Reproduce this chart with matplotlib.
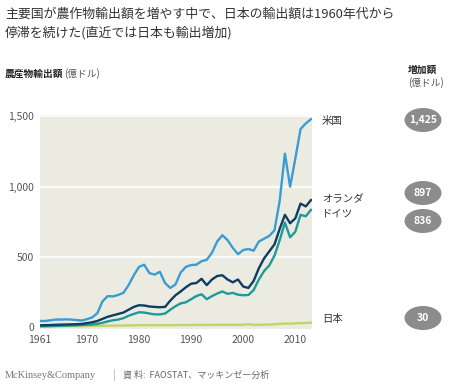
import matplotlib
matplotlib.use("Agg")
import matplotlib.pyplot as plt
from matplotlib.patches import Ellipse
import numpy as np

plt.rcParams['font.family'] = ['Noto Sans CJK JP', 'DejaVu Sans']

# data (億ドル), 1961-2013
years = np.arange(1961, 2014)
usa = [45, 45, 50, 55, 55, 57, 55, 52, 48, 58,
       70, 100, 185, 222, 220, 230, 245, 300, 370, 430,
       445, 385, 375, 395, 315, 280, 305, 390, 430, 443,
       445, 470, 480, 530, 610, 655, 620, 565, 520, 550,
       557, 545, 610, 630, 650, 690, 900, 1235, 1000, 1200,
       1410, 1450, 1480]
netherlands = [14, 15, 16, 18, 19, 20, 21, 22, 24, 30,
               36, 45, 60, 75, 85, 95, 105, 125, 145, 157,
               155, 148, 145, 143, 145, 190, 228, 255, 285, 310,
               315, 345, 300, 340, 365, 370, 340, 320, 340, 290,
               280, 330, 420, 490, 540, 590, 700, 800, 740, 775,
               880, 860, 905]
germany = [8, 8, 9, 10, 11, 12, 13, 14, 16, 18,
           20, 24, 32, 42, 50, 55, 65, 82, 95, 107,
           105, 98, 92, 92, 98, 125, 150, 170, 178, 200,
           222, 235, 200, 222, 240, 255, 238, 245, 232, 228,
           230, 265, 340, 400, 440, 510, 620, 745, 640, 680,
           800, 790, 835]
japan = [5, 5, 6, 6, 7, 7, 8, 8, 9, 9,
         10, 10, 11, 12, 12, 12, 13, 13, 14, 15,
         15, 15, 15, 15, 15, 15, 16, 16, 16, 17,
         17, 17, 17, 17, 18, 18, 18, 18, 18, 18,
         22, 17, 18, 19, 20, 22, 24, 27, 26, 28,
         29, 31, 33]

names = ['米国', 'オランダ', 'ドイツ', '日本']
increase = ['1,425', '897', '836', '30']
xticks = [1961, 1970, 1980, 1990, 2000, 2010]
yticks = [0, 500, 1000, 1500]

W, H = 474, 389
fig = plt.figure(figsize=(W / 100, H / 100), dpi=100)

def fx(px):
    return px / W

def fy(py):
    return 1 - py / H

# plot area
ax = fig.add_axes([fx(40), fy(329), fx(312) - fx(40), fy(115) - fy(329)])
ax.set_facecolor('#ecebe1')
for s in ax.spines.values():
    s.set_visible(False)
ax.set_xlim(1961, 2013.2)
ax.set_ylim(-12, 1510)
for yv in yticks[1:]:
    ax.axhline(yv, color='white', lw=1.2, zorder=1)

ax.plot(years, japan, color='#c3d36a', lw=1.7, zorder=3)
ax.plot(years, germany, color='#1e9a98', lw=1.7, zorder=3)
ax.plot(years, netherlands, color='#0d3d62', lw=1.7, zorder=4)
ax.plot(years, usa, color='#3b9bd3', lw=1.7, zorder=5)

ax.set_xticks(xticks)
ax.set_xticklabels([str(x) for x in xticks])
ax.set_yticks(yticks)
ax.set_yticklabels(['{:,}'.format(v) for v in yticks])
ax.tick_params(length=0, labelsize=7.5, colors='#555555', pad=4)

# title
fig.text(fx(5), fy(14), '主要国が農作物輸出額を増やす中で、日本の輸出額は1960年代から',
         fontsize=9.3, color='#333333', va='center', ha='left')
fig.text(fx(5), fy(33), '停滞を続けた(直近では日本も輸出増加)',
         fontsize=9.3, color='#333333', va='center', ha='left')

# sub headers
t = fig.text(fx(5), fy(74), '農産物輸出額', fontsize=7, fontweight='bold',
             color='#222222', va='center', ha='left')
fig.canvas.draw()
bb = t.get_window_extent()
fig.text(bb.x1 / W + 0.002, fy(74), '(億ドル)', fontsize=7, color='#555555',
         va='center', ha='left')
fig.text(fx(408), fy(70), '増加額', fontsize=7, fontweight='bold',
         color='#222222', va='center', ha='left')
fig.text(fx(408), fy(83), '(億ドル)', fontsize=7, color='#555555',
         va='center', ha='left')

# series labels and value bubbles
label_y = [121, 199, 214, 319]
bubble_y = [120, 193, 221, 318]
for name, ly, val, by in zip(names, label_y, increase, bubble_y):
    fig.text(fx(322), fy(ly), name, fontsize=7.5, color='#333333',
             va='center', ha='left')
    e = Ellipse((fx(423), fy(by)), 37 / W, 24 / H, transform=fig.transFigure,
                facecolor='#8c8c8c', edgecolor='none')
    fig.patches.append(e)
    fig.text(fx(423), fy(by), val, fontsize=7.5, color='white',
             fontweight='bold', va='center', ha='center')

# footer
fig.text(fx(5), fy(375), 'McKinsey&Company', fontsize=7.5, color='#777777',
         family='Liberation Serif', va='center', ha='left')
fig.text(fx(113), fy(375), '|', fontsize=7, color='#aaaaaa', va='center', ha='left')
fig.text(fx(123), fy(375), '資 料:  FAOSTAT、マッキンゼー分析', fontsize=6.5,
         color='#666666', va='center', ha='left')

fig.savefig('out.png', dpi=100)
